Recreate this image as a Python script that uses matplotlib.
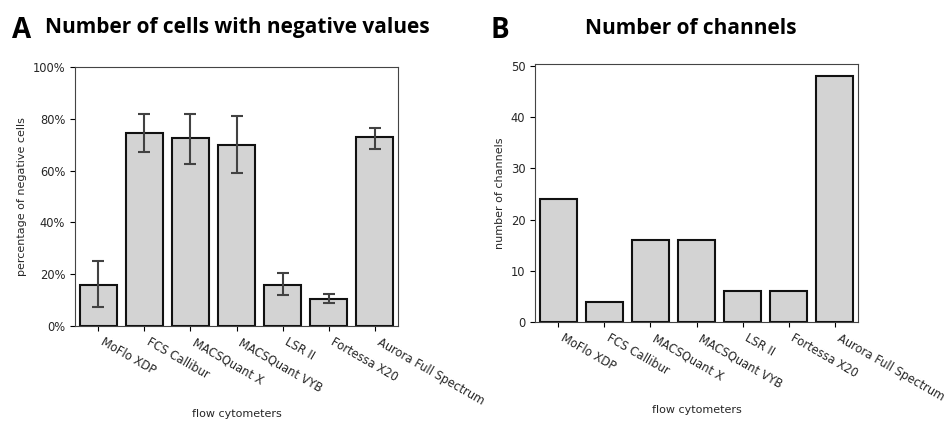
import matplotlib
matplotlib.use('Agg')
import matplotlib.pyplot as plt
from matplotlib.ticker import PercentFormatter

cytometers = ['MoFlo XDP', 'FCS Callibur', 'MACSQuant X', 'MACSQuant VYB',
              'LSR II', 'Fortessa X20', 'Aurora Full Spectrum']

# percentage of negative cells (mean, lower and upper error bar ends)
neg_pct = [16.0, 74.5, 72.5, 70.0, 16.0, 10.5, 73.0]
neg_low = [7.5, 67.0, 62.5, 59.0, 12.0, 9.0, 68.5]
neg_high = [25.0, 82.0, 82.0, 81.0, 20.5, 12.5, 76.5]

# number of channels
channels = [24, 4, 16, 16, 6, 6, 48]

BAR_COLOR = '#d3d3d3'
ERR_COLOR = '#424242'
TEXT_COLOR = '#262626'
TITLE_FONT = ['Open Sans', 'DejaVu Sans']

fig = plt.figure(figsize=(9.47, 4.23), dpi=100)
ax1 = fig.add_axes([75 / 947, 1 - 326 / 423, 323 / 947, 259 / 423])
ax2 = fig.add_axes([535 / 947, 1 - 322 / 423, 323 / 947, 258 / 423])

x = list(range(len(cytometers)))

# left panel
yerr = [[m - lo for m, lo in zip(neg_pct, neg_low)],
        [hi - m for m, hi in zip(neg_pct, neg_high)]]
ax1.bar(x, neg_pct, width=0.8, color=BAR_COLOR, edgecolor='#111111', linewidth=1.5)
ax1.errorbar(x, neg_pct, yerr=yerr, fmt='none', ecolor=ERR_COLOR,
             elinewidth=1.5, capsize=4, capthick=1.5)
ax1.set_ylim(0, 100)
ax1.yaxis.set_major_formatter(PercentFormatter(decimals=0))
ax1.set_ylabel('percentage of negative cells', fontsize=8, color=TEXT_COLOR)

# right panel
ax2.bar(x, channels, width=0.8, color=BAR_COLOR, edgecolor='#111111', linewidth=1.5)
ax2.set_ylim(0, 50.4)
ax2.set_ylabel('number of channels', fontsize=8, color=TEXT_COLOR)

for ax in (ax1, ax2):
    ax.set_xlim(-0.5, len(cytometers) - 0.5)
    ax.set_xticks(x)
    ax.set_xticklabels(cytometers, rotation=-30, ha='left', fontsize=8.3,
                       color=TEXT_COLOR)
    ax.tick_params(axis='y', labelsize=8.3, labelcolor=TEXT_COLOR)
    ax.set_xlabel('flow cytometers', fontsize=8, labelpad=1, color=TEXT_COLOR)
    for sp in ax.spines.values():
        sp.set_color('#444444')

fig.text(12 / 947, 1 - 30 / 423, 'A', fontsize=20, fontweight='bold',
         family=TITLE_FONT, va='center', ha='left')
fig.text(45 / 947, 1 - 28 / 423, 'Number of cells with negative values', fontsize=15,
         fontweight='bold', family=TITLE_FONT, va='center', ha='left')
fig.text(490 / 947, 1 - 30 / 423, 'B', fontsize=20, fontweight='bold',
         family=TITLE_FONT, va='center', ha='left')
fig.text(585 / 947, 1 - 28 / 423, 'Number of channels', fontsize=15,
         fontweight='bold', family=TITLE_FONT, va='center', ha='left')

fig.savefig('out.png', dpi=100)
